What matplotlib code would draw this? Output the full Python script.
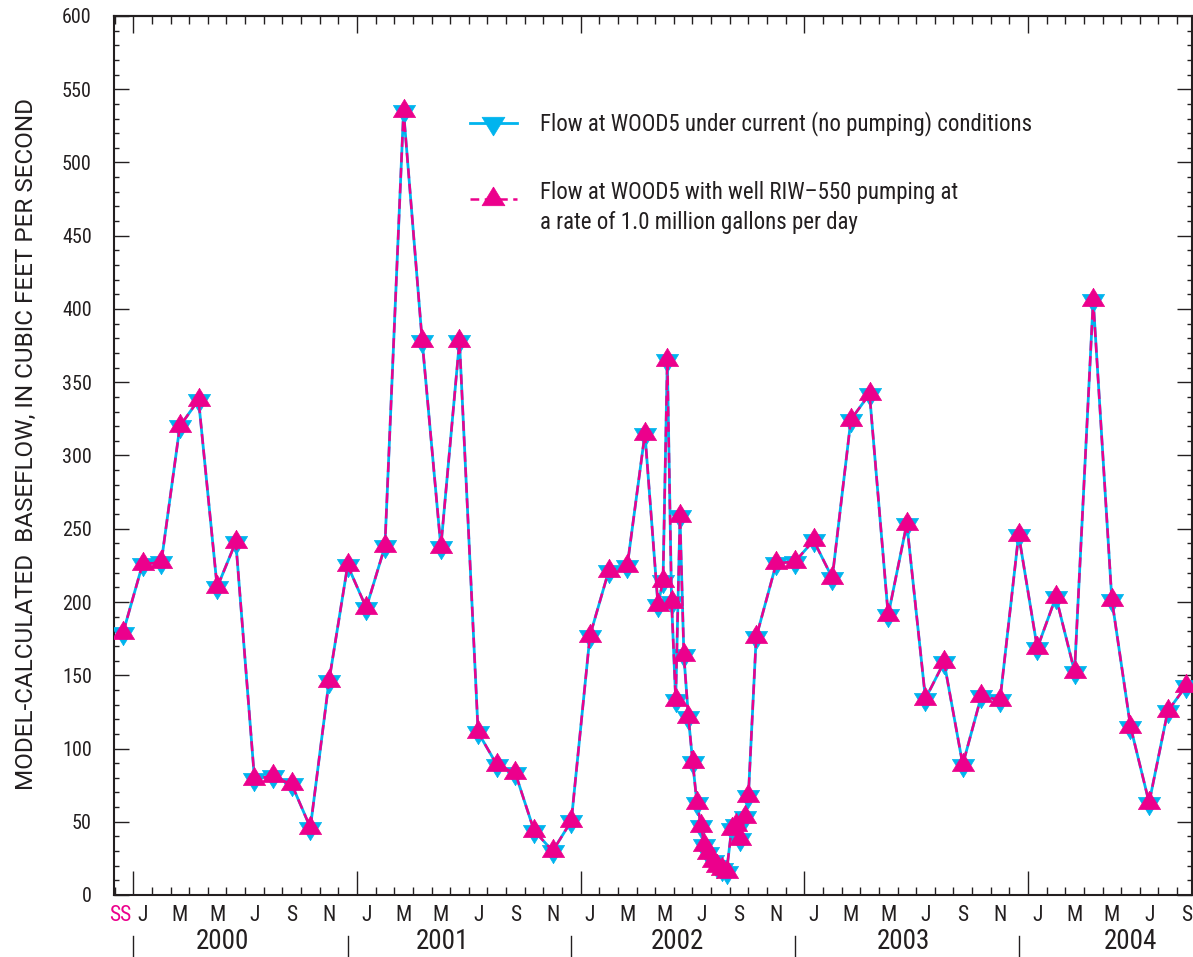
import matplotlib
matplotlib.use('Agg')
import matplotlib.pyplot as plt
import matplotlib.transforms as mtransforms
from matplotlib.ticker import MultipleLocator

plt.rcParams['font.family'] = ['Roboto Condensed', 'DejaVu Sans']

BLUE = '#00B4EE'
PINK = '#EC008C'
INK = '#231F20'

# time axis: months since 1 Jan 2000 (first value is the steady-state run)
months = [-0.55,
          0.5, 1.5, 2.5, 3.5, 4.5, 5.5, 6.5, 7.5, 8.5, 9.5, 10.5, 11.5,
          12.5, 13.5, 14.5, 15.5, 16.5, 17.5, 18.5, 19.5, 20.5, 21.5, 22.5, 23.5,
          24.5, 25.5, 26.5, 27.45, 28.15, 28.42, 28.65, 28.88, 29.10, 29.33,
          29.54, 29.78, 30.01, 30.24, 30.47, 30.63, 30.85, 31.08, 31.29, 31.57,
          31.83, 32.10, 32.33, 32.55, 32.82, 33.0, 33.42, 34.5, 35.5,
          36.5, 37.5, 38.5, 39.5, 40.5, 41.5, 42.5, 43.5, 44.5, 45.5, 46.5, 47.5,
          48.5, 49.5, 50.5, 51.5, 52.5, 53.5, 54.5, 55.5, 56.5]

# baseflow at WOOD5, cubic feet per second
flow_current = [179,
                226, 227, 320, 338, 210, 241, 79.5, 81, 75.5, 46, 146, 225,
                196, 238, 535, 378, 237.5, 378, 111, 89, 83, 44, 30, 50.5,
                177, 221, 224.5, 315, 198, 214.5, 365.5, 200, 133, 258.5,
                163.5, 121.5, 91, 62.5, 47, 34, 28.5, 23, 19.5, 17.5,
                16, 45, 48, 38, 53, 67.5, 176, 226.5, 227.5,
                242, 216.5, 324.5, 342, 191, 253.5, 134, 159, 89, 136, 133, 246,
                168.5, 203.5, 152.5, 406, 201.5, 115, 63, 125.5, 143]

flow_pumping = [179,
                226, 227, 320, 338, 210, 241, 79.5, 81, 75.5, 46, 146, 225,
                196, 238, 535, 378, 237.5, 378, 111, 89, 83, 44, 30, 50.5,
                177, 221, 224.5, 315, 198, 214.5, 365.5, 200, 133, 258.5,
                163.5, 121.5, 91, 62.5, 47, 34, 28.5, 23, 19.5, 17.5,
                16, 45, 48, 38, 53, 67.5, 176, 226.5, 227.5,
                242, 216.5, 324.5, 342, 191, 253.5, 134, 159, 89, 136, 133, 246,
                168.5, 203.5, 152.5, 406, 201.5, 115, 63, 125.5, 143]

month_letters = ['J', 'M', 'M', 'J', 'S', 'N']
years = ['2000', '2001', '2002', '2003', '2004']
year_label_x = [4.8, 16.6, 29.2, 41.3, 53.5]

label_current = 'Flow at WOOD5 under current (no pumping) conditions'
label_pumping = ('Flow at WOOD5 with well RIW\u2013550 pumping at\n'
                 'a rate of 1.0 million gallons per day')

# slightly flattened triangles
tri_up = [(0, 0.547), (-0.5, -0.273), (0.5, -0.273), (0, 0.547)]
tri_down = [(0, -0.547), (-0.5, 0.273), (0.5, 0.273), (0, -0.547)]

fig = plt.figure(figsize=(11.93, 9.57), dpi=100)
ax = fig.add_axes([114 / 1193, 62 / 957, 1078 / 1193, 879 / 957])

ax.plot(months, flow_current, color=BLUE, lw=2.0, marker=tri_down, ms=17.5,
        mfc=BLUE, mec=BLUE, mew=0.5, zorder=3)
ax.plot(months, flow_pumping, color=PINK, lw=1.8, dashes=(4, 2.2), marker=tri_up,
        ms=17.5, mfc=PINK, mec=PINK, mew=0.5, zorder=4)

ax.set_xlim(-1.035, 56.8)
ax.set_ylim(0, 600)

for sp in ax.spines.values():
    sp.set_color(INK)
    sp.set_linewidth(1.5)

# year boundaries long, months short
ax.xaxis.set_major_locator(MultipleLocator(12))
ax.xaxis.set_minor_locator(MultipleLocator(1))
ax.tick_params(axis='x', which='both', direction='in', labelbottom=False,
               color=INK, width=1.0)
ax.tick_params(axis='x', which='major', length=17.5)
ax.tick_params(axis='x', which='minor', length=6)

top = ax.secondary_xaxis('top')
top.xaxis.set_major_locator(MultipleLocator(12))
top.xaxis.set_minor_locator(MultipleLocator(1))
top.tick_params(axis='x', which='both', direction='in', labeltop=False,
                color=INK, width=1.0)
top.tick_params(axis='x', which='major', length=12)
top.tick_params(axis='x', which='minor', length=6)
top.spines['top'].set_linewidth(1.5)
top.spines['top'].set_color(INK)

ax.yaxis.set_major_locator(MultipleLocator(50))
ax.yaxis.set_minor_locator(MultipleLocator(10))
ax.tick_params(axis='y', which='both', direction='in', left=True, right=True,
               color=INK, width=1.0)
ax.tick_params(axis='y', which='major', length=11, pad=16, labelsize=14.5,
               labelcolor=INK)
ax.tick_params(axis='y', which='minor', length=3.6)

# month letters, steady-state marker and year captions below the axis
trans = mtransforms.blended_transform_factory(ax.transData, ax.transAxes)
for i, m in enumerate(range(0, 57, 2)):
    ax.text(m + 0.5, -0.0236, month_letters[i % 6], transform=trans,
            ha='center', va='center', fontsize=15.5, color=INK)
ax.text(-0.71, -0.0236, 'SS', transform=trans, ha='center', va='center',
        fontsize=15.5, color=PINK)
for x, yr in zip(year_label_x, years):
    ax.text(x, -0.0531, yr, transform=trans, ha='center', va='center',
            fontsize=19.5, color=INK)
for x in [0, 11.5, 23.5, 35.5, 47.5]:
    ax.plot([x, x], [-0.0466, -0.0705], transform=trans, color=INK, lw=1.0,
            clip_on=False)

# legend
ax.plot([0.330, 0.374], [0.878, 0.878], transform=ax.transAxes, color=BLUE,
        lw=2.0, clip_on=False)
ax.plot([0.352], [0.878], transform=ax.transAxes, marker=tri_down, ms=18,
        color=BLUE, mew=0.5, clip_on=False)
ax.plot([0.330, 0.374], [0.792, 0.792], transform=ax.transAxes, color=PINK,
        lw=1.8, dashes=(3.5, 2.2), clip_on=False)
ax.plot([0.352], [0.792], transform=ax.transAxes, marker=tri_up, ms=18,
        color=PINK, mew=0.5, clip_on=False)
ax.text(0.395, 0.878, label_current, transform=ax.transAxes, ha='left',
        va='center', fontsize=16.5, color=INK)
ax.text(0.395, 0.812, label_pumping, transform=ax.transAxes, ha='left',
        va='top', fontsize=16.5, color=INK, linespacing=1.35)

fig.text(26 / 1193, 1 - 444 / 957,
         'MODEL-CALCULATED  BASEFLOW, IN CUBIC FEET PER SECOND',
         rotation=90, ha='center', va='center', fontsize=17.5, color=INK,
         family=['Roboto', 'DejaVu Sans'])

fig.savefig('out.png', dpi=100)
